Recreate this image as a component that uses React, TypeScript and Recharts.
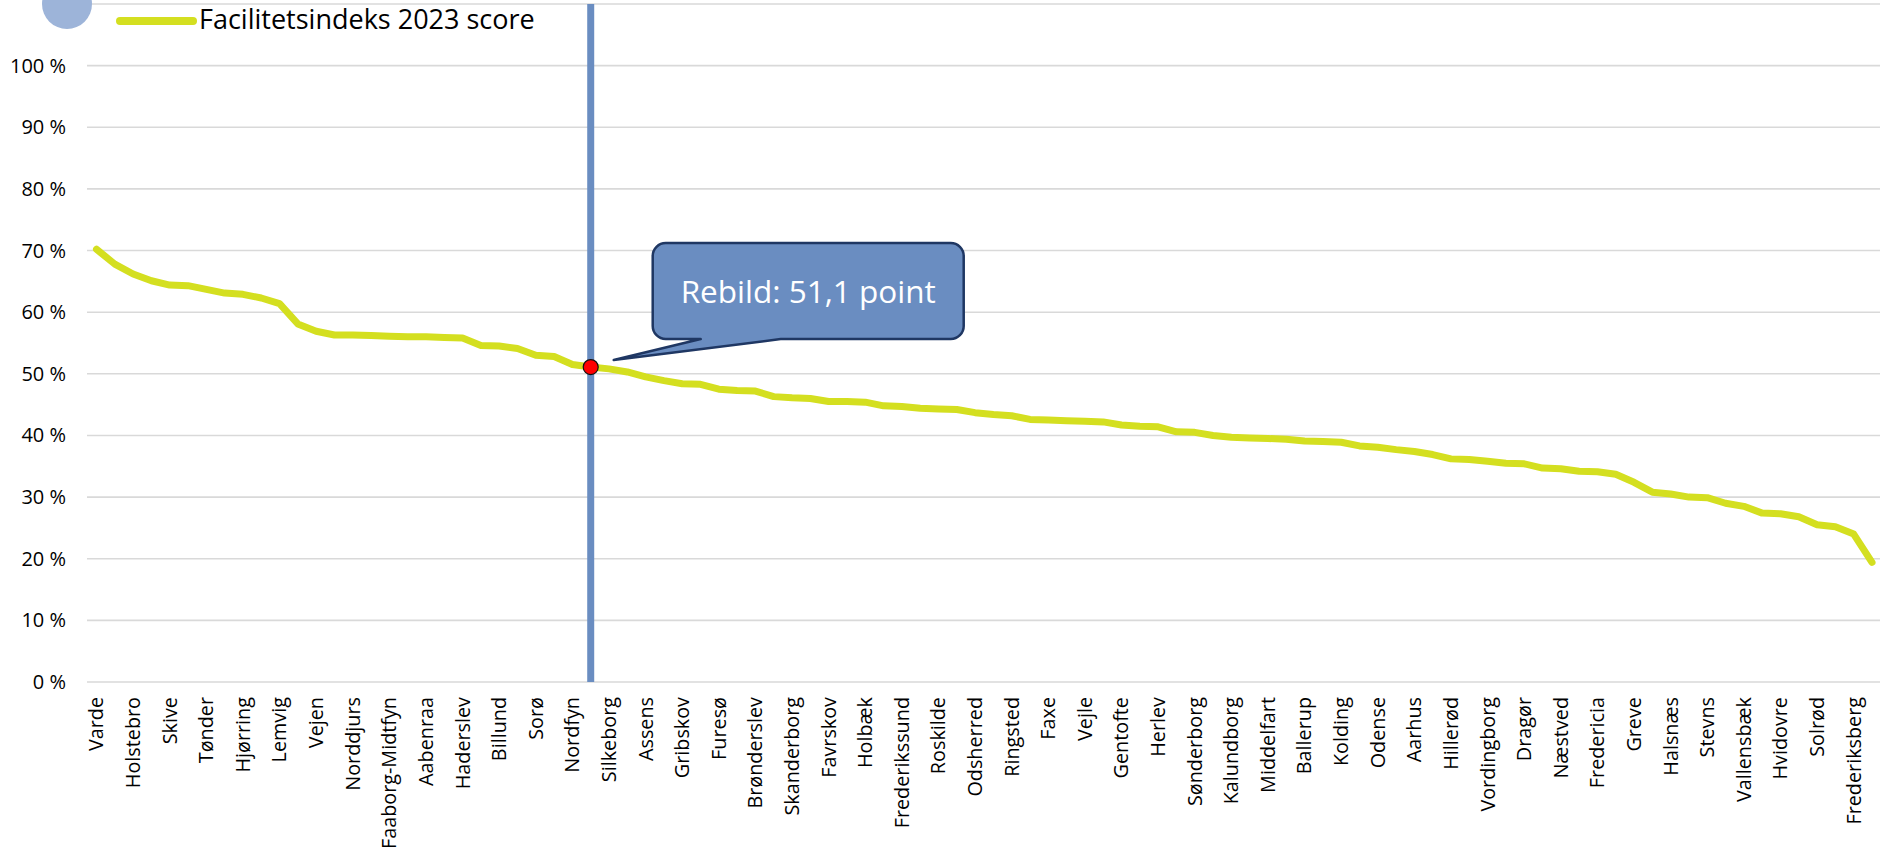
import {
  CartesianGrid,
  Line,
  LineChart,
  ReferenceDot,
  ReferenceLine,
  XAxis,
  YAxis,
} from "recharts";

const municipalities = [
  "Varde", "Ringkøbing-Skjern", "Holstebro", "Struer", "Skive", "Thisted",
  "Tønder", "Morsø", "Hjørring", "Ikast-Brande", "Lemvig", "Vesthimmerland",
  "Vejen", "Jammerbugt", "Norddjurs", "Mariagerfjord", "Faaborg-Midtfyn",
  "Langeland", "Aabenraa", "Herning", "Haderslev", "Syddjurs", "Billund",
  "Viborg", "Sorø", "Hedensted", "Nordfyn", "Rebild", "Silkeborg",
  "Kerteminde", "Assens", "Lolland", "Gribskov", "Guldborgsund", "Furesø",
  "Frederikshavn", "Brønderslev", "Odder", "Skanderborg", "Lejre", "Favrskov",
  "Svendborg", "Holbæk", "Nyborg", "Frederikssund", "Egedal", "Roskilde",
  "Bornholm", "Odsherred", "Slagelse", "Ringsted", "Randers", "Faxe",
  "Esbjerg", "Vejle", "Allerød", "Gentofte", "Horsens", "Herlev", "Rudersdal",
  "Sønderborg", "Køge", "Kalundborg", "Hørsholm", "Middelfart", "Fredensborg",
  "Ballerup", "Helsingør", "Kolding", "Aalborg", "Odense", "Lyngby-Taarbæk",
  "Aarhus", "Gladsaxe", "Hillerød", "Høje-Taastrup", "Vordingborg", "Ærø",
  "Dragør", "Samsø", "Næstved", "Fanø", "Fredericia", "Læsø", "Greve",
  "Ishøj", "Halsnæs", "Albertslund", "Stevns", "Glostrup", "Vallensbæk",
  "Rødovre", "Hvidovre", "Brøndby", "Solrød", "Tårnby", "Frederiksberg",
  "København",
];

const scores = [
  70.2, 67.8, 66.2, 65.1, 64.4, 64.3, 63.7, 63.1, 62.9, 62.3, 61.4, 58.1,
  56.9, 56.3, 56.3, 56.2, 56.1, 56.0, 56.0, 55.9, 55.8, 54.6, 54.5, 54.1,
  53.0, 52.8, 51.5, 51.1, 50.8, 50.3, 49.5, 48.9, 48.4, 48.3, 47.5, 47.3,
  47.2, 46.3, 46.1, 46.0, 45.5, 45.5, 45.4, 44.8, 44.7, 44.4, 44.3, 44.2,
  43.7, 43.4, 43.2, 42.6, 42.5, 42.4, 42.3, 42.2, 41.7, 41.5, 41.4, 40.6,
  40.5, 40.0, 39.7, 39.6, 39.5, 39.4, 39.1, 39.0, 38.9, 38.3, 38.1, 37.7,
  37.4, 36.9, 36.2, 36.1, 35.8, 35.5, 35.4, 34.7, 34.6, 34.2, 34.1, 33.7,
  32.4, 30.8, 30.5, 30.0, 29.9, 29.0, 28.5, 27.4, 27.3, 26.8, 25.5, 25.2,
  24.0, 19.4,
];

const yTicks = [0, 10, 20, 30, 40, 50, 60, 70, 80, 90, 100];

const seriesName = "Facilitetsindeks 2023 score";
const highlightName = "Rebild";

const chartData = municipalities.map((name, i) => ({ name, score: scores[i] }));
const highlightIndex = municipalities.indexOf(highlightName);
const highlightScore = scores[highlightIndex];

const FONT = "'Open Sans', sans-serif";
const LINE_COLOR = "#d4df20";
const MARK_BLUE = "#6a8dc1";
const NAVY = "#1f3763";

function YTick({ y, payload }: any) {
  return (
    <text x={66} y={y} dy="0.35em" textAnchor="end" fontSize={20} fontFamily={FONT} fill="#000">
      {payload.value} %
    </text>
  );
}

function XTick({ x, y, payload }: any) {
  return (
    <text
      x={x}
      y={y}
      dy="0.35em"
      textAnchor="end"
      transform={`rotate(-90, ${x}, ${y})`}
      fontSize={19.8}
      fontFamily={FONT}
      fill="#000"
    >
      {payload.value}
    </text>
  );
}

function Callout({ cx, cy }: any) {
  if (cx == null || cy == null) return <g />;
  const left = cx + 62;
  const right = cx + 373;
  const top = cy - 124;
  const bottom = cy - 28;
  const r = 13;
  const tipX = cx + 23;
  const tipY = cy - 7;
  const d = [
    `M ${left + r} ${top}`,
    `H ${right - r}`,
    `A ${r} ${r} 0 0 1 ${right} ${top + r}`,
    `V ${bottom - r}`,
    `A ${r} ${r} 0 0 1 ${right - r} ${bottom}`,
    `H ${cx + 190}`,
    `L ${tipX} ${tipY}`,
    `L ${cx + 110} ${bottom}`,
    `H ${left + r}`,
    `A ${r} ${r} 0 0 1 ${left} ${bottom - r}`,
    `V ${top + r}`,
    `A ${r} ${r} 0 0 1 ${left + r} ${top}`,
    "Z",
  ].join(" ");
  const label = `${highlightName}: ${highlightScore.toFixed(1).replace(".", ",")} point`;
  return (
    <g>
      <path d={d} fill={MARK_BLUE} stroke={NAVY} strokeWidth={2.5} strokeLinejoin="round" />
      <text
        x={(left + right) / 2}
        y={cy - 64}
        textAnchor="middle"
        fontSize={31.5}
        fontFamily={FONT}
        fill="#fff"
      >
        {label}
      </text>
    </g>
  );
}

function HighlightDot(props: any) {
  const { cx, cy, index } = props;
  if (index !== highlightIndex) return <g key={`dot-${index}`} />;
  return (
    <circle key={`dot-${index}`} cx={cx} cy={cy} r={7.5} fill="#ff0000" stroke="#111" strokeWidth={1.2} />
  );
}

export default function App() {
  return (
    <div style={{ position: "absolute", left: 0, top: 0, width: 1880, height: 865, background: "#fff" }}>
      <LineChart
        width={1880}
        height={865}
        data={chartData}
        margin={{ top: 4, right: 0, bottom: 0, left: 0 }}
        accessibilityLayer={false}
      >
        <CartesianGrid horizontal vertical={false} stroke="#d9d9d9" strokeWidth={1.6} />
        <XAxis
          dataKey="name"
          interval={1}
          height={183}
          padding={{ left: 9.5, right: 8 }}
          axisLine={false}
          tickLine={false}
          tickSize={0}
          tickMargin={15}
          tick={<XTick />}
        />
        <YAxis
          width={87}
          domain={[0, 110]}
          ticks={yTicks}
          axisLine={false}
          tickLine={false}
          tick={<YTick />}
        />
        <ReferenceLine x={highlightName} stroke={MARK_BLUE} strokeWidth={7} />
        <ReferenceDot x={highlightName} y={highlightScore} r={0} shape={<Callout />} />
        <Line
          type="linear"
          dataKey="score"
          name={seriesName}
          stroke={LINE_COLOR}
          strokeWidth={7}
          strokeLinejoin="round"
          strokeLinecap="round"
          dot={HighlightDot}
          activeDot={false}
          isAnimationActive={false}
        />
      </LineChart>
      <svg
        width={600}
        height={50}
        style={{ position: "absolute", left: 0, top: 0, pointerEvents: "none" }}
      >
        <circle cx={67} cy={4} r={25} fill="#9db4d9" />
        <line x1={120} y1={21} x2={193} y2={21} stroke={LINE_COLOR} strokeWidth={8} strokeLinecap="round" />
        <text x={199} y={29} fontSize={27} fontFamily={FONT} fill="#000">
          {seriesName}
        </text>
      </svg>
    </div>
  );
}
